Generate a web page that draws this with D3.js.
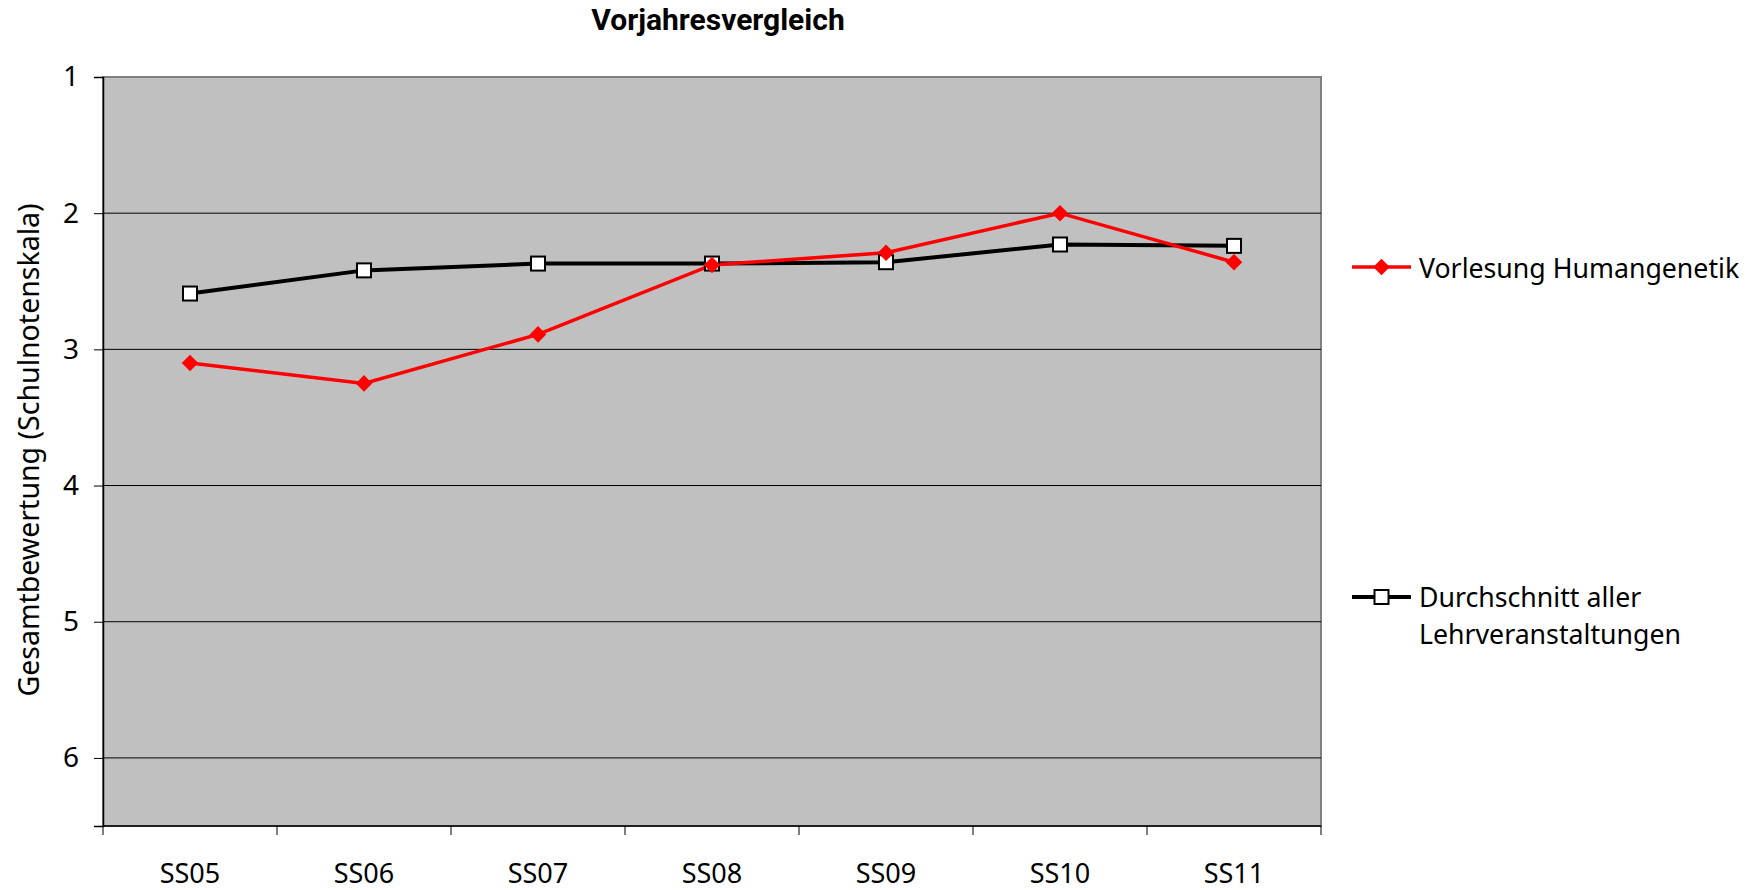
<!DOCTYPE html>
<html>
<head>
<meta charset="utf-8">
<script src="https://cdn.jsdelivr.net/npm/d3@7"></script>
<style>
  body { margin: 0; background: #fff; }
  svg { display: block; font-family: "Noto Sans", "Open Sans", sans-serif; }
</style>
</head>
<body>
<div id="chart"></div>
<script>
// data (school grades, 1 = best)
var semesters = ["SS05", "SS06", "SS07", "SS08", "SS09", "SS10", "SS11"];
var vorlesung = [3.10, 3.25, 2.89, 2.38, 2.29, 2.00, 2.36];
var durchschnitt = [2.59, 2.42, 2.37, 2.37, 2.36, 2.23, 2.24];
var yTicks = [1, 2, 3, 4, 5, 6];

var W = 1753, H = 890;
var plot = { left: 103, right: 1321, top: 77, bottom: 826 };

var svg = d3.select("#chart").append("svg")
    .attr("width", W)
    .attr("height", H);

var x = d3.scaleBand()
    .domain(semesters)
    .range([plot.left, plot.right])
    .padding(0);

var y = d3.scaleLinear()
    .domain([1, 6.5])
    .range([plot.top, plot.bottom]);

function cx(d) { return x(d) + x.bandwidth() / 2; }

// plot area
svg.append("rect")
    .attr("x", plot.left)
    .attr("y", plot.top)
    .attr("width", plot.right - plot.left)
    .attr("height", plot.bottom - plot.top)
    .style("fill", "#c0c0c0")
    .style("stroke", "#808080")
    .style("stroke-width", 2);

// gridlines
svg.append("g").selectAll("line")
    .data(yTicks.slice(1))
    .enter().append("line")
    .attr("x1", plot.left)
    .attr("x2", plot.right)
    .attr("y1", function(d){ return y(d); })
    .attr("y2", function(d){ return y(d); })
    .style("stroke", "#000")
    .style("stroke-width", 1);

// y axis
var yAxis = svg.append("g")
    .attr("transform", "translate(" + plot.left + ",0)")
    .call(d3.axisLeft(y).tickValues(yTicks).tickSize(9).tickPadding(15).tickFormat(d3.format("d")));
yAxis.select(".domain").style("stroke", "#000").style("stroke-width", 1.5);
yAxis.selectAll(".tick line").style("stroke", "#000");
yAxis.selectAll("text")
    .style("font-size", "28px")
    .style("font-family", "'Noto Sans', sans-serif")
    .style("fill", "#000");

// x axis (ticks on category boundaries, labels centred)
var xAxis = svg.append("g")
    .attr("transform", "translate(0," + plot.bottom + ")");
xAxis.append("line")
    .attr("x1", plot.left).attr("x2", plot.right)
    .style("stroke", "#000").style("stroke-width", 1.5);
var bounds = semesters.map(function(d){ return x(d); }).concat([plot.right]);
xAxis.selectAll(".xtick")
    .data(bounds)
    .enter().append("line")
    .attr("class", "xtick")
    .attr("x1", function(d){ return d; })
    .attr("x2", function(d){ return d; })
    .attr("y1", 0).attr("y2", 9)
    .style("stroke", "#000");
xAxis.selectAll(".xlabel")
    .data(semesters)
    .enter().append("text")
    .attr("class", "xlabel")
    .attr("x", cx)
    .attr("y", 57)
    .attr("text-anchor", "middle")
    .style("font-size", "27px")
    .text(function(d){ return d; });

// lines
var line = d3.line()
    .x(function(d, i){ return cx(semesters[i]); })
    .y(function(d){ return y(d); });

svg.append("path")
    .datum(durchschnitt)
    .attr("d", line)
    .style("fill", "none")
    .style("stroke", "#000")
    .style("stroke-width", 4);

svg.append("path")
    .datum(vorlesung)
    .attr("d", line)
    .style("fill", "none")
    .style("stroke", "#ff0000")
    .style("stroke-width", 3.5);

var diamond = d3.symbol().type(d3.symbolDiamond2).size(175);

svg.append("g").selectAll("rect")
    .data(durchschnitt)
    .enter().append("rect")
    .attr("x", function(d, i){ return cx(semesters[i]) - 7; })
    .attr("y", function(d){ return y(d) - 7; })
    .attr("width", 14).attr("height", 14)
    .style("fill", "#fff")
    .style("stroke", "#000")
    .style("stroke-width", 2);

svg.append("g").selectAll("path")
    .data(vorlesung)
    .enter().append("path")
    .attr("d", diamond)
    .attr("transform", function(d, i){ return "translate(" + cx(semesters[i]) + "," + y(d) + ")"; })
    .style("fill", "#ff0000");

// title
svg.append("text")
    .attr("x", 718)
    .attr("y", 30)
    .attr("text-anchor", "middle")
    .style("font-family", "'Liberation Sans Narrow', 'Roboto', sans-serif")
    .style("font-weight", "bold")
    .style("font-size", "30px")
    .text("Vorjahresvergleich");

// y axis title
svg.append("text")
    .attr("transform", "translate(39,450) rotate(-90)")
    .attr("text-anchor", "middle")
    .style("font-size", "28.5px")
    .text("Gesamtbewertung (Schulnotenskala)");

// legend
var legend = svg.append("g");
legend.append("line")
    .attr("x1", 1352).attr("x2", 1411).attr("y1", 267).attr("y2", 267)
    .style("stroke", "#ff0000").style("stroke-width", 3.5);
legend.append("path")
    .attr("d", diamond)
    .attr("transform", "translate(1381.5,267)")
    .style("fill", "#ff0000");
legend.append("text")
    .attr("x", 1419).attr("y", 278)
    .style("font-size", "26.7px")
    .text("Vorlesung Humangenetik");

legend.append("line")
    .attr("x1", 1352).attr("x2", 1411).attr("y1", 597).attr("y2", 597)
    .style("stroke", "#000").style("stroke-width", 4);
legend.append("rect")
    .attr("x", 1374.5).attr("y", 590).attr("width", 14).attr("height", 14)
    .style("fill", "#fff").style("stroke", "#000").style("stroke-width", 2);
var t2 = legend.append("text")
    .attr("x", 1419).attr("y", 607)
    .style("font-size", "26.7px");
t2.append("tspan").attr("x", 1419).text("Durchschnitt aller");
t2.append("tspan").attr("x", 1419).attr("dy", 37).text("Lehrveranstaltungen");
</script>
</body>
</html>
